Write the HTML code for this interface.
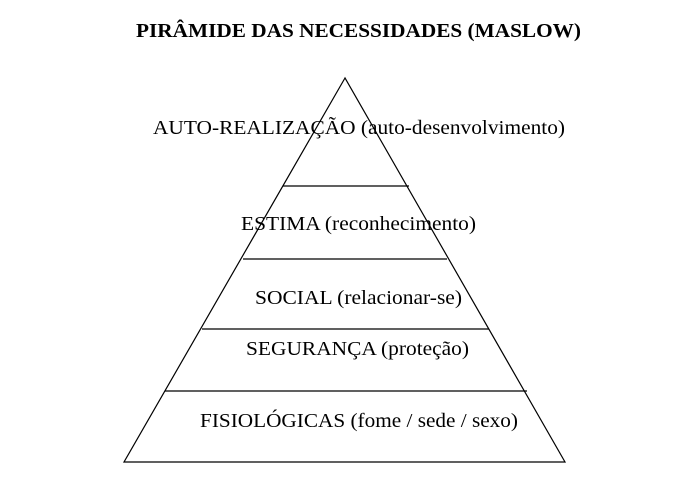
<!DOCTYPE html>
<html><head><meta charset="utf-8"><style>
html,body{margin:0;padding:0;background:#fff;width:694px;height:487px;overflow:hidden}
</style></head><body>
<svg width="694" height="487" xmlns="http://www.w3.org/2000/svg" font-family="Liberation Serif, serif">
<text x="136" y="37" font-size="20.5" font-weight="bold" textLength="445" lengthAdjust="spacingAndGlyphs">PIRÂMIDE DAS NECESSIDADES (MASLOW)</text>
<polygon points="345,78 124,462 565,462" fill="none" stroke="#000" stroke-width="1.2"/>
<line x1="283" y1="186" x2="409" y2="186" stroke="#000" stroke-width="1.2"/>
<line x1="243" y1="259" x2="447" y2="259" stroke="#000" stroke-width="1.2"/>
<line x1="202" y1="329" x2="489" y2="329" stroke="#000" stroke-width="1.2"/>
<line x1="165" y1="391" x2="527" y2="391" stroke="#000" stroke-width="1.2"/>
<text x="153" y="134" font-size="20.5" textLength="412" lengthAdjust="spacingAndGlyphs">AUTO-REALIZAÇÃO (auto-desenvolvimento)</text>
<text x="241" y="230" font-size="20.5" textLength="235" lengthAdjust="spacingAndGlyphs">ESTIMA (reconhecimento)</text>
<text x="255" y="304" font-size="20.5" textLength="207" lengthAdjust="spacingAndGlyphs">SOCIAL (relacionar-se)</text>
<text x="246" y="355" font-size="20.5" textLength="223" lengthAdjust="spacingAndGlyphs">SEGURANÇA (proteção)</text>
<text x="200" y="427" font-size="20.5" textLength="318" lengthAdjust="spacingAndGlyphs">FISIOLÓGICAS (fome / sede / sexo)</text>
</svg>
</body></html>
